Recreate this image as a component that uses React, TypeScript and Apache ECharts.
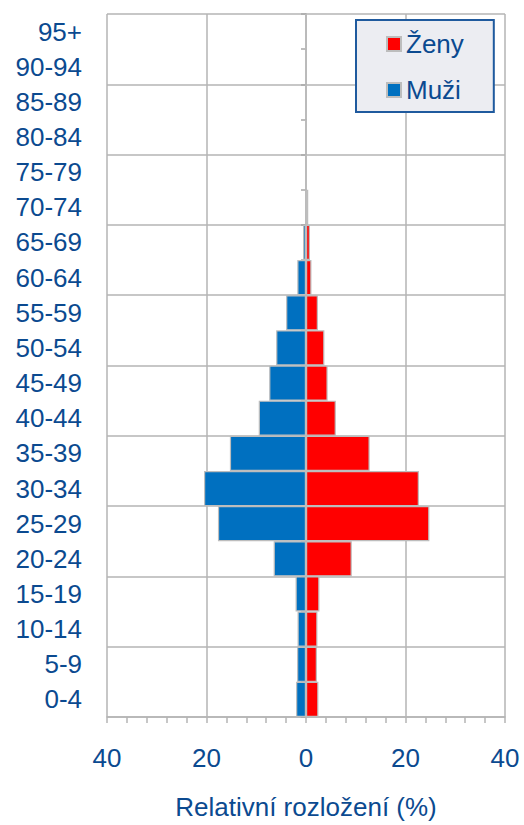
import React, { useEffect, useRef } from "react";
import * as echarts from "echarts";

const ageGroups = [
  "0-4", "5-9", "10-14", "15-19", "20-24", "25-29", "30-34", "35-39", "40-44", "45-49",
  "50-54", "55-59", "60-64", "65-69", "70-74", "75-79", "80-84", "85-89", "90-94", "95+",
];
const men = [2.0, 1.8, 1.7, 2.1, 6.5, 17.7, 20.5, 15.3, 9.5, 7.4, 6.0, 4.0, 1.75, 0.6, 0.1, 0.05, 0.05, 0.05, 0, 0];
const women = [2.5, 2.2, 2.3, 2.7, 9.2, 24.8, 22.7, 12.8, 6.0, 4.35, 3.7, 2.4, 1.1, 0.8, 0.45, 0.1, 0.05, 0.05, 0, 0];
const xTicks = [-40, -20, 0, 20, 40];

const TEXT = "#0b4a90";
const GRID = "#b5b5b5";
const FONT = "'Liberation Sans', Arial, sans-serif";

export default function App() {
  const ref = useRef<HTMLDivElement>(null);
  useEffect(() => {
    if (!ref.current) return;
    const chart = echarts.init(ref.current, null, { renderer: "svg" });
    chart.setOption({
      animation: false,
      textStyle: { fontFamily: FONT },
      grid: { left: 107, right: 19, top: 14, bottom: 106 },
      legend: {
        data: ["Ženy", "Muži"],
        orient: "vertical",
        left: 356,
        top: 20,
        icon: "rect",
        itemWidth: 14,
        itemHeight: 14,
        itemGap: 16,
        padding: [9, 30, 7, 30],
        backgroundColor: "#ecedf2",
        borderColor: "#1f5a9e",
        borderWidth: 2,
        textStyle: { color: TEXT, fontSize: 26, fontFamily: FONT, lineHeight: 30 },
      },
      xAxis: {
        type: "value",
        min: xTicks[0],
        max: xTicks[xTicks.length - 1],
        interval: 20,
        axisLine: { show: true, onZero: false, lineStyle: { color: GRID, width: 1.5 } },
        axisTick: { show: true, length: 6, lineStyle: { color: GRID, width: 1.5 } },
        minorTick: { show: true, splitNumber: 5, length: 6, lineStyle: { color: GRID, width: 1.5 } },
        splitLine: { show: true, lineStyle: { color: GRID, width: 1.5 } },
        axisLabel: {
          color: TEXT,
          fontSize: 26,
          fontFamily: FONT,
          margin: 28,
          formatter: (v: number) => String(Math.abs(v)),
        },
        name: "Relativní rozložení (%)",
        nameLocation: "middle",
        nameGap: 77,
        nameTextStyle: { color: TEXT, fontSize: 26, fontFamily: FONT },
      },
      yAxis: [
        {
          type: "category",
          data: ageGroups,
          position: "left",
          axisLine: { show: false, onZero: false },
          axisTick: { show: false },
          axisLabel: { color: TEXT, fontSize: 26, fontFamily: FONT, margin: 25, interval: 0 },
          splitLine: { show: false },
        },
        {
          type: "category",
          data: ageGroups,
          position: "left",
          axisLine: { show: true, onZero: true, lineStyle: { color: "#a8a8a8", width: 1.5 } },
          axisTick: { show: true, interval: 0, length: 5, lineStyle: { color: "#a8a8a8", width: 1.5 } },
          axisLabel: { show: false },
          splitLine: { show: false },
        },
        {
          type: "value",
          min: 0,
          max: ageGroups.length,
          interval: 2,
          position: "right",
          axisLine: { show: false, onZero: false },
          axisTick: { show: false },
          axisLabel: { show: false },
          splitLine: { show: true, lineStyle: { color: GRID, width: 1.5 } },
        },
      ],
      series: [
        {
          name: "Ženy",
          type: "bar",
          stack: "total",
          yAxisIndex: 0,
          barCategoryGap: "0%",
          data: women,
          itemStyle: { color: "#ff0000", borderColor: "#bdbdbd", borderWidth: 1.2 },
        },
        {
          name: "Muži",
          type: "bar",
          stack: "total",
          yAxisIndex: 0,
          barCategoryGap: "0%",
          data: men.map((v) => -v),
          itemStyle: { color: "#0070c0", borderColor: "#bdbdbd", borderWidth: 1.2 },
        },
      ],
    });
    return () => chart.dispose();
  }, []);
  return <div ref={ref} style={{ width: 524, height: 825, position: "absolute", left: 0, top: 0 }} />;
}
